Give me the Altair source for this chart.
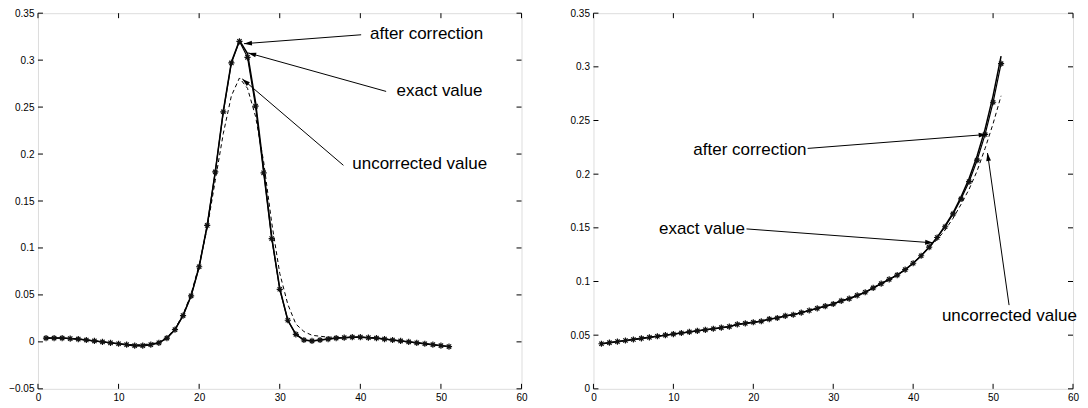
import math
import altair as alt
import pandas as pd

# ---------------- data ----------------
x_vals = list(range(1, 52))

left_after = [0.004, 0.004, 0.004, 0.0035, 0.003, 0.002, 0.001, 0.0, -0.001, -0.002,
              -0.003, -0.004, -0.004, -0.003, -0.001, 0.004, 0.013, 0.028, 0.049, 0.080,
              0.124, 0.181, 0.245, 0.297, 0.320, 0.303, 0.251, 0.180, 0.110, 0.056,
              0.023, 0.008, 0.002, 0.001, 0.002, 0.003, 0.004, 0.0045, 0.005, 0.005,
              0.0045, 0.004, 0.003, 0.002, 0.001, 0.0, -0.001, -0.002, -0.003, -0.004,
              -0.005]
left_exact = [0.004, 0.004, 0.004, 0.0035, 0.003, 0.002, 0.001, 0.0, -0.001, -0.002,
              -0.003, -0.004, -0.004, -0.003, -0.001, 0.004, 0.013, 0.028, 0.049, 0.080,
              0.124, 0.181, 0.246, 0.298, 0.321, 0.307, 0.255, 0.184, 0.112, 0.057,
              0.023, 0.008, 0.002, 0.001, 0.002, 0.003, 0.004, 0.0045, 0.005, 0.005,
              0.0045, 0.004, 0.003, 0.002, 0.001, 0.0, -0.001, -0.002, -0.003, -0.004,
              -0.005]
left_uncorr = [0.004, 0.004, 0.004, 0.0035, 0.003, 0.002, 0.001, 0.0, -0.001, -0.002,
               -0.003, -0.003, -0.003, -0.002, 0.0, 0.005, 0.014, 0.029, 0.051, 0.082,
               0.121, 0.172, 0.222, 0.262, 0.281, 0.270, 0.240, 0.192, 0.127, 0.073,
               0.040, 0.019, 0.011, 0.007, 0.006, 0.005, 0.005, 0.0045, 0.005, 0.005,
               0.0045, 0.004, 0.003, 0.002, 0.001, 0.0, -0.001, -0.002, -0.003, -0.004,
               -0.005]

right_after = [0.042, 0.043, 0.044, 0.045, 0.046, 0.047, 0.048, 0.049, 0.050, 0.051,
               0.052, 0.053, 0.054, 0.055, 0.056, 0.057, 0.058, 0.060, 0.061, 0.062,
               0.063, 0.065, 0.066, 0.068, 0.069, 0.071, 0.073, 0.075, 0.077, 0.079,
               0.082, 0.084, 0.087, 0.090, 0.094, 0.098, 0.102, 0.106, 0.111, 0.117,
               0.124, 0.132, 0.141, 0.151, 0.163, 0.177, 0.193, 0.213, 0.237, 0.267,
               0.303]
right_exact = [0.042, 0.043, 0.044, 0.045, 0.046, 0.047, 0.048, 0.049, 0.050, 0.051,
               0.052, 0.053, 0.054, 0.055, 0.056, 0.057, 0.058, 0.060, 0.061, 0.062,
               0.063, 0.065, 0.066, 0.068, 0.069, 0.071, 0.073, 0.075, 0.077, 0.079,
               0.082, 0.084, 0.087, 0.090, 0.094, 0.098, 0.102, 0.106, 0.111, 0.117,
               0.124, 0.132, 0.141, 0.152, 0.164, 0.179, 0.196, 0.217, 0.242, 0.273,
               0.310]
right_uncorr = [0.042, 0.043, 0.044, 0.045, 0.046, 0.047, 0.048, 0.049, 0.050, 0.051,
                0.052, 0.053, 0.054, 0.055, 0.056, 0.057, 0.058, 0.060, 0.061, 0.062,
                0.063, 0.065, 0.066, 0.068, 0.069, 0.071, 0.073, 0.075, 0.077, 0.079,
                0.082, 0.084, 0.087, 0.090, 0.094, 0.098, 0.102, 0.106, 0.111, 0.117,
                0.124, 0.132, 0.139, 0.148, 0.159, 0.172, 0.186, 0.203, 0.224, 0.247,
                0.273]

x_ticks = [0, 10, 20, 30, 40, 50, 60]
left_y_ticks = [-0.05, 0, 0.05, 0.1, 0.15, 0.2, 0.25, 0.3, 0.35]
right_y_ticks = [0, 0.05, 0.1, 0.15, 0.2, 0.25, 0.3, 0.35]

labels = ["after correction", "exact value", "uncorrected value"]
# annotation text anchor (left, baseline) and arrow start/tip, in data units
left_text_x = [41.2, 44.5, 39.0]
left_text_y = [0.3226, 0.2617, 0.1843]
left_arrow_from_x = [40.1, 43.2, 37.9]
left_arrow_from_y = [0.327, 0.2667, 0.188]
left_arrow_to_x = [25.56, 26.08, 25.35]
left_arrow_to_y = [0.3175, 0.3077, 0.280]

right_text_x = [12.5, 8.2, 43.6]
right_text_y = [0.218, 0.1443, 0.0632]
right_arrow_from_x = [26.8, 19.15, 52.0]
right_arrow_from_y = [0.224, 0.149, 0.078]
right_arrow_to_x = [49.2, 42.5, 49.3]
right_arrow_to_y = [0.237, 0.136, 0.2197]

FONT = "Liberation Sans"
ASTER = "M-1,0L1,0M0,-1L0,1M-0.7,-0.7L0.7,0.7M-0.7,0.7L0.7,-0.7"
HEAD = "M0,0L0.6,2L-0.6,2Z"


def panel(after, exact, uncorr, ymin, ymax, yticks, tx, ty, fx, fy, ex, ey, W, H):
    df = pd.DataFrame({"x": x_vals, "after": after, "exact": exact, "uncorr": uncorr})
    xs = alt.Scale(domain=[0, 60], nice=False, zero=False)
    ys = alt.Scale(domain=[ymin, ymax], nice=False, zero=False)
    xaxis = alt.Axis(values=x_ticks, ticks=False, domain=False, grid=False, title=None,
                     labelPadding=4, labelFlush=False, labelOverlap=False, format="d")
    yaxis = alt.Axis(values=yticks, ticks=False, domain=False, grid=False, title=None,
                     labelPadding=4, labelFlush=False, labelOverlap=False, format="~g")

    def X(f):
        return alt.X(f, scale=xs, axis=xaxis)

    def Y(f):
        return alt.Y(f, scale=ys, axis=yaxis)

    base = alt.Chart(df)
    exact_line = base.mark_line(color="black", strokeWidth=1.5).encode(
        x=X("x:Q"), y=Y("exact:Q"))
    after_line = base.mark_line(color="black", strokeWidth=1.2).encode(
        x=X("x:Q"), y=Y("after:Q"))
    uncorr_line = base.mark_line(color="black", strokeWidth=1, strokeDash=[4, 3]).encode(
        x=X("x:Q"), y=Y("uncorr:Q"))
    stars = base.mark_point(shape=ASTER, size=38, filled=False, color="#111",
                            strokeWidth=1.2, opacity=1).encode(
        x=X("x:Q"), y=Y("after:Q"))

    angs = []
    for i in range(len(labels)):
        dx = (ex[i] - fx[i]) * W / 60.0
        dy = -(ey[i] - fy[i]) * H / (ymax - ymin)
        angs.append(math.degrees(math.atan2(dx, -dy)) % 360)
    ann = pd.DataFrame({"label": labels, "tx": tx, "ty": ty, "fx": fx, "fy": fy,
                        "ex": ex, "ey": ey, "ang": angs})
    a = alt.Chart(ann)
    texts = a.mark_text(align="left", baseline="alphabetic", fontSize=17, font=FONT,
                        color="black").encode(
        x=X("tx:Q"), y=Y("ty:Q"), text="label:N")
    arrows = a.mark_rule(color="black", strokeWidth=1).encode(
        x=X("fx:Q"), y=Y("fy:Q"), x2="ex:Q", y2="ey:Q")
    heads = a.mark_point(shape=HEAD, size=64, filled=True, color="black", opacity=1,
                         strokeWidth=0).encode(
        x=X("ex:Q"), y=Y("ey:Q"), angle=alt.Angle("ang:Q", scale=None))

    xt = alt.Chart(pd.DataFrame({"v": x_ticks}))
    yt = alt.Chart(pd.DataFrame({"v": yticks}))
    tick_b = xt.mark_rule(color="black", strokeWidth=1).encode(
        x=X("v:Q"), y=alt.value(H), y2=alt.value(H - 5))
    tick_t = xt.mark_rule(color="black", strokeWidth=1).encode(
        x=X("v:Q"), y=alt.value(0), y2=alt.value(5))
    tick_l = yt.mark_rule(color="black", strokeWidth=1).encode(
        y=Y("v:Q"), x=alt.value(0), x2=alt.value(5))
    tick_r = yt.mark_rule(color="black", strokeWidth=1).encode(
        y=Y("v:Q"), x=alt.value(W), x2=alt.value(W - 5))

    return alt.layer(exact_line, uncorr_line, after_line, stars, tick_b, tick_t, tick_l,
                     tick_r, arrows, heads, texts).properties(width=W, height=H)


PLOT_H = 376
left = panel(left_after, left_exact, left_uncorr, -0.05, 0.35, left_y_ticks,
             left_text_x, left_text_y, left_arrow_from_x, left_arrow_from_y,
             left_arrow_to_x, left_arrow_to_y, 484, PLOT_H)
right = panel(right_after, right_exact, right_uncorr, 0.0, 0.35, right_y_ticks,
              right_text_x, right_text_y, right_arrow_from_x, right_arrow_from_y,
              right_arrow_to_x, right_arrow_to_y, 480, PLOT_H)

chart = alt.hconcat(left, right, spacing=72, bounds="flush").properties(
    padding={"left": 0, "top": -1, "right": 0, "bottom": -2}
).configure_view(stroke="black", strokeWidth=1.2).configure_axis(
    labelFont=FONT, labelFontSize=10, labelColor="black"
).configure(background="white")

chart.save("out.html", embed_options={"renderer": "svg", "actions": False})
